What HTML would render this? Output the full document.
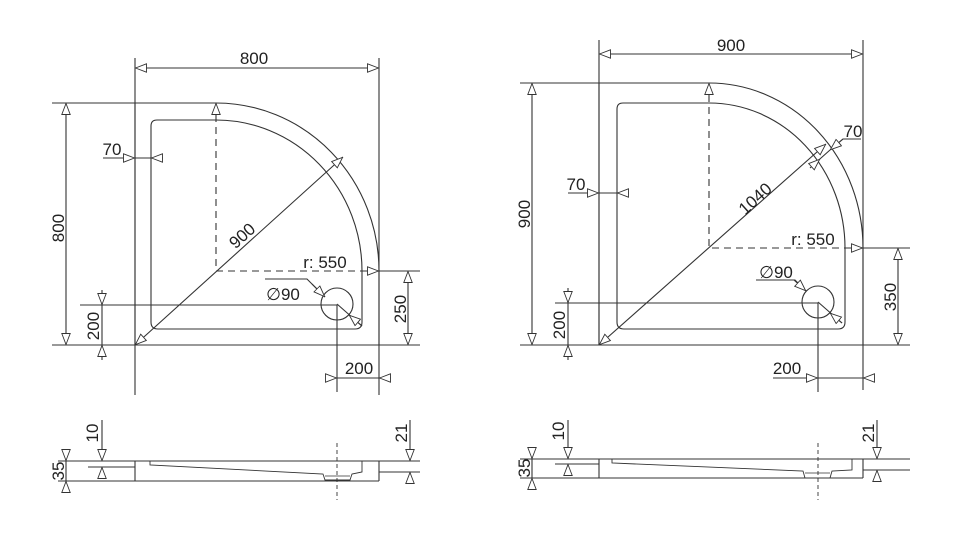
<!DOCTYPE html>
<html><head><meta charset="utf-8"><style>
html,body{margin:0;padding:0;background:#fff}
svg{display:block}
text{font-family:"Liberation Sans",Arial,sans-serif;font-size:17px;fill:#222}
</style></head><body>
<svg width="973" height="545" viewBox="0 0 973 545" xmlns="http://www.w3.org/2000/svg">
<defs>
<marker id="a" viewBox="0 0 12 10" refX="12" refY="5" markerWidth="12" markerHeight="10" markerUnits="userSpaceOnUse" orient="auto-start-reverse">
<path d="M0.5,0.8 L11.5,5 L0.5,9.2 Z" fill="#fff" stroke="#333" stroke-width="0.9"/>
</marker>
</defs>
<g stroke="#333" stroke-width="1.1" fill="none">
<path d="M135,103 H216 A163,168 0 0 1 379,271 V345 H135 Z"/>
<path d="M157,120 H216 A146,151 0 0 1 362,271 V322 Q362,329 355,329 H158 Q151,329 151,322 V126 Q151,120 157,120 Z"/>
<path d="M216,115 V271 H367" stroke-dasharray="7,5"/>
<line x1="135" y1="58" x2="135" y2="395"/>
<line x1="379" y1="58" x2="379" y2="395"/>
<line x1="135" y1="68" x2="379" y2="68" marker-start="url(#a)" marker-end="url(#a)"/>
<line x1="52" y1="103" x2="135" y2="103"/>
<line x1="52" y1="345" x2="420" y2="345"/>
<line x1="66" y1="103" x2="66" y2="345" marker-start="url(#a)" marker-end="url(#a)"/>
<line x1="103" y1="158" x2="135" y2="158" marker-end="url(#a)"/>
<line x1="135" y1="158" x2="163" y2="158"/>
<line x1="163" y1="158" x2="151" y2="158" marker-end="url(#a)"/>
<line x1="216" y1="115" x2="216" y2="103" marker-end="url(#a)"/>
<line x1="135" y1="345" x2="343" y2="157" marker-start="url(#a)" marker-end="url(#a)"/>
<line x1="367" y1="271" x2="379" y2="271" marker-end="url(#a)"/>
<line x1="379" y1="271" x2="420" y2="271"/>
<line x1="408" y1="271" x2="408" y2="345" marker-start="url(#a)" marker-end="url(#a)"/>
<line x1="80" y1="305" x2="337" y2="305"/>
<line x1="337" y1="305" x2="337" y2="392"/>
<circle cx="337" cy="304" r="16"/>
<line x1="102" y1="290" x2="102" y2="360"/>
<line x1="102" y1="293" x2="102" y2="305" marker-end="url(#a)"/>
<line x1="102" y1="357" x2="102" y2="345" marker-end="url(#a)"/>
<path d="M265,279 H307 L325,297"/>
<line x1="312" y1="284" x2="325" y2="297" marker-end="url(#a)"/>
<line x1="337" y1="304" x2="362" y2="326"/>
<line x1="362" y1="326" x2="349" y2="315" marker-end="url(#a)"/>
<line x1="326" y1="378" x2="391" y2="378"/>
<line x1="326" y1="378" x2="337" y2="378" marker-end="url(#a)"/>
<line x1="391" y1="378" x2="379" y2="378" marker-end="url(#a)"/>

<path d="M599,83 H709 A154,165 0 0 1 863,248 V345 H599 Z"/>
<path d="M623,103 H709 A136,145 0 0 1 845,248 V322 Q845,329 838,329 H624 Q617,329 617,322 V109 Q617,103 623,103 Z"/>
<path d="M709,95 V248 H851" stroke-dasharray="7,5"/>
<line x1="599" y1="40" x2="599" y2="345"/>
<line x1="863" y1="40" x2="863" y2="390"/>
<line x1="599" y1="54" x2="863" y2="54" marker-start="url(#a)" marker-end="url(#a)"/>
<line x1="520" y1="83" x2="599" y2="83"/>
<line x1="520" y1="345" x2="910" y2="345"/>
<line x1="532" y1="83" x2="532" y2="345" marker-start="url(#a)" marker-end="url(#a)"/>
<line x1="568" y1="193" x2="599" y2="193" marker-end="url(#a)"/>
<line x1="599" y1="193" x2="629" y2="193"/>
<line x1="629" y1="193" x2="617" y2="193" marker-end="url(#a)"/>
<line x1="709" y1="95" x2="709" y2="83" marker-end="url(#a)"/>
<line x1="599" y1="345" x2="826" y2="144" marker-start="url(#a)" marker-end="url(#a)"/>
<path d="M861,139 H843 L830,150"/>
<line x1="843" y1="139" x2="830" y2="150" marker-end="url(#a)"/>
<line x1="830" y1="150" x2="812" y2="166"/>
<line x1="810" y1="168" x2="820" y2="159" marker-end="url(#a)"/>
<line x1="851" y1="248" x2="863" y2="248" marker-end="url(#a)"/>
<line x1="863" y1="248" x2="910" y2="248"/>
<line x1="898" y1="248" x2="898" y2="345" marker-start="url(#a)" marker-end="url(#a)"/>
<line x1="555" y1="303" x2="818" y2="303"/>
<line x1="818" y1="303" x2="818" y2="392"/>
<circle cx="818" cy="302" r="16"/>
<line x1="568" y1="288" x2="568" y2="360"/>
<line x1="568" y1="291" x2="568" y2="303" marker-end="url(#a)"/>
<line x1="568" y1="357" x2="568" y2="345" marker-end="url(#a)"/>
<path d="M756,280 H795 L806,291"/>
<line x1="794" y1="280" x2="806" y2="291" marker-end="url(#a)"/>
<line x1="818" y1="302" x2="842" y2="323"/>
<line x1="842" y1="323" x2="830" y2="313" marker-end="url(#a)"/>
<line x1="773" y1="378" x2="875" y2="378"/>
<line x1="808" y1="378" x2="818" y2="378" marker-end="url(#a)"/>
<line x1="875" y1="378" x2="863" y2="378" marker-end="url(#a)"/>

<line x1="58" y1="461" x2="420" y2="461"/>
<line x1="58" y1="481" x2="379" y2="481"/>
<line x1="88" y1="467" x2="135" y2="467"/>
<line x1="135" y1="461" x2="135" y2="481"/>
<line x1="379" y1="461" x2="379" y2="481"/>
<line x1="379" y1="472" x2="420" y2="472"/>
<path d="M150,461 V465 L323,474 L325,480 H350 L352,474 L362,472 V461" stroke-width="0.9"/>
<line x1="325" y1="476" x2="350" y2="476" stroke-width="0.8"/>
<line x1="337" y1="443" x2="337" y2="500" stroke-dasharray="4,3" stroke-width="0.9"/>
<line x1="66" y1="449" x2="66" y2="461" marker-end="url(#a)"/>
<line x1="66" y1="461" x2="66" y2="481"/>
<line x1="66" y1="493" x2="66" y2="481" marker-end="url(#a)"/>
<line x1="102" y1="420" x2="102" y2="461" marker-end="url(#a)"/>
<line x1="102" y1="479" x2="102" y2="467" marker-end="url(#a)"/>
<line x1="410" y1="420" x2="410" y2="461" marker-end="url(#a)"/>
<line x1="410" y1="484" x2="410" y2="472" marker-end="url(#a)"/>

<line x1="520" y1="459" x2="910" y2="459"/>
<line x1="520" y1="478" x2="863" y2="478"/>
<line x1="555" y1="464" x2="599" y2="464"/>
<line x1="599" y1="459" x2="599" y2="478"/>
<line x1="863" y1="459" x2="863" y2="478"/>
<line x1="863" y1="470" x2="910" y2="470"/>
<path d="M612,459 V463 L803,471 L805,478 H830 L832,471 L852,470 V459" stroke-width="0.9"/>
<line x1="805" y1="473" x2="830" y2="473" stroke-width="0.8"/>
<line x1="818" y1="443" x2="818" y2="500" stroke-dasharray="4,3" stroke-width="0.9"/>
<line x1="532" y1="447" x2="532" y2="459" marker-end="url(#a)"/>
<line x1="532" y1="459" x2="532" y2="478"/>
<line x1="532" y1="490" x2="532" y2="478" marker-end="url(#a)"/>
<line x1="568" y1="420" x2="568" y2="459" marker-end="url(#a)"/>
<line x1="568" y1="476" x2="568" y2="464" marker-end="url(#a)"/>
<line x1="877" y1="420" x2="877" y2="459" marker-end="url(#a)"/>
<line x1="877" y1="482" x2="877" y2="470" marker-end="url(#a)"/>
</g>
<g>
<text x="254" y="64" text-anchor="middle">800</text>
<text transform="translate(64,228) rotate(-90)" text-anchor="middle">800</text>
<text x="112" y="155" text-anchor="middle">70</text>
<text transform="translate(246,240) rotate(-42)" text-anchor="middle">900</text>
<text x="325" y="268" text-anchor="middle">r: 550</text>
<text x="283" y="300" text-anchor="middle">∅90</text>
<text transform="translate(406,309) rotate(-90)" text-anchor="middle">250</text>
<text transform="translate(99,326) rotate(-90)" text-anchor="middle">200</text>
<text x="359" y="374" text-anchor="middle">200</text>

<text x="731" y="51" text-anchor="middle">900</text>
<text transform="translate(530,214) rotate(-90)" text-anchor="middle">900</text>
<text x="576" y="190" text-anchor="middle">70</text>
<text x="853" y="137" text-anchor="middle">70</text>
<text transform="translate(759,203) rotate(-42)" text-anchor="middle">1040</text>
<text x="813" y="245" text-anchor="middle">r: 550</text>
<text x="776" y="278" text-anchor="middle">∅90</text>
<text transform="translate(896,297) rotate(-90)" text-anchor="middle">350</text>
<text transform="translate(565,325) rotate(-90)" text-anchor="middle">200</text>
<text x="787" y="374" text-anchor="middle">200</text>

<text transform="translate(64,471) rotate(-90)" text-anchor="middle">35</text>
<text transform="translate(98,433) rotate(-90)" text-anchor="middle">10</text>
<text transform="translate(407,433) rotate(-90)" text-anchor="middle">21</text>
<text transform="translate(530,468) rotate(-90)" text-anchor="middle">35</text>
<text transform="translate(564,431) rotate(-90)" text-anchor="middle">10</text>
<text transform="translate(874,433) rotate(-90)" text-anchor="middle">21</text>
</g>
</svg>
</body></html>
